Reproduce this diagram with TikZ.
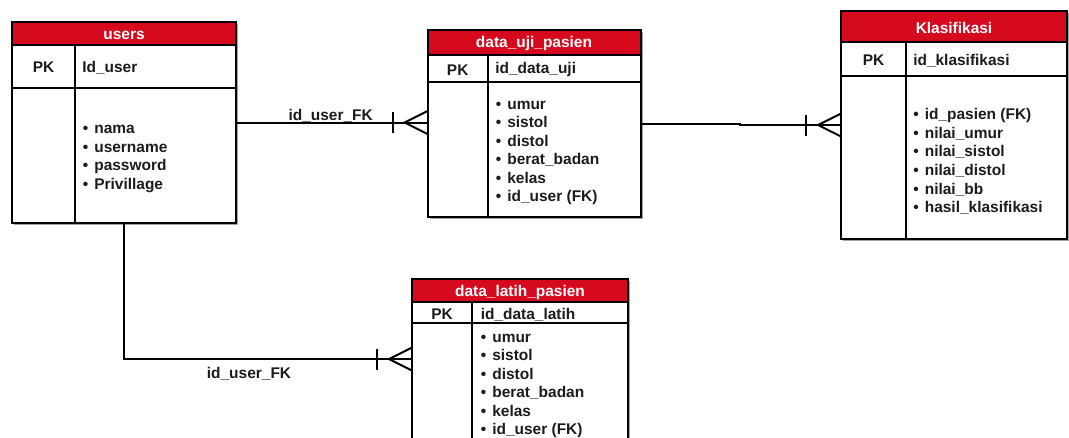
\documentclass[tikz,border=0pt]{standalone}
\usepackage{fontspec}
\setmainfont{Liberation Sans}
\usetikzlibrary{calc}
\definecolor{hdrred}{RGB}{214,10,30}
\definecolor{ink}{RGB}{28,28,28}

\tikzset{
  tbl/.style={fill=white, anchor=north west, inner sep=0pt, outer sep=0pt},
  rule/.style={draw=black, line width=1.5pt},
  hdr/.style={text=white, inner sep=0pt, yshift=-1.1pt, font=\fontsize{11.6}{13.9}\selectfont\bfseries},
  txt/.style={text=ink, inner sep=0pt, yshift=-1.1pt, font=\fontsize{11.6}{13.9}\selectfont\bfseries},
  list/.style={txt, align=left, anchor=west, yshift=-1.2pt},
  link/.style={draw=black, line width=1.5pt},
  shade/.style={fill=black!35}
}

% bullet followed by the gap before the item text
\newcommand\itm{•\hspace{4.6pt}}

% entity box: #1 name, #2 left, #3 top, #4 right, #5 bottom,
% #6 header bottom, #7 key row bottom, #8 column divider
\newcommand\ertable[8]{%
  \fill[shade] (#2+2,#3+2) rectangle (#4+2,#5+2);
  \node[tbl, minimum width={(#4-#2)*0.75pt}, minimum height={(#5-#3)*0.75pt}] (#1) at (#2,#3) {};
  \fill[hdrred] (#2,#3) rectangle (#4,#6);
  \draw[rule] (#2,#6) -- (#4,#6);
  \draw[rule] (#2,#7) -- (#4,#7);
  \draw[rule] (#8,#6) -- (#8,#5);
  \draw[rule] (#1.north west) rectangle (#1.south east);
}

% one-and-only-one bar plus crow's foot ending at a point
\newcommand\crow[1]{%
  \draw[link] ($#1+(-35,-10.5)$) -- ($#1+(-35,10.5)$);
  \draw[link] ($#1+(0,-11.5)$) -- ($#1+(-23,0)$) -- ($#1+(0,11.5)$);
}

\begin{document}
\begin{tikzpicture}[x=0.75pt, y=-0.75pt]
\useasboundingbox (0,0) rectangle (1069,437);

% ---- users
\ertable{users}{12}{22}{236}{223}{44.5}{88}{75}
\node[hdr] (usersT) at (124,33.5) {users};
\node[txt] (usersPK) at (43.5,66) {PK};
\node[txt, anchor=west] (usersK) at (82,66) {Id\_user};
\node[list] (usersA) at (82.5,156) {\itm nama\\\itm username\\\itm password\\\itm Privillage};

% ---- data_uji_pasien
\ertable{uji}{427.5}{30}{641}{217}{55}{82}{488}
\node[hdr] (ujiT) at (534,42.5) {data\_uji\_pasien};
\node[txt] (ujiPK) at (457.7,68.5) {PK};
\node[txt, anchor=west] (ujiK) at (495,68.5) {id\_data\_uji};
\node[list] (ujiA) at (495.5,150) {\itm umur\\\itm sistol\\\itm distol\\\itm berat\_badan\\\itm kelas\\\itm id\_user (FK)};

% ---- Klasifikasi
\ertable{klas}{841}{11}{1067}{239}{42}{76}{906}
\node[hdr] (klasT) at (954,26.5) {Klasifikasi};
\node[txt] (klasPK) at (873.5,59) {PK};
\node[txt, anchor=west] (klasK) at (913,59) {id\_klasifikasi};
\node[list] (klasA) at (913,158.5) {\itm id\_pasien (FK)\\\itm nilai\_umur\\\itm nilai\_sistol\\\itm nilai\_distol\\\itm nilai\_bb\\\itm hasil\_klasifikasi};

% ---- data_latih_pasien
\ertable{latih}{412}{279}{627.5}{439}{302}{323}{472}
\node[hdr] (latihT) at (520,291) {data\_latih\_pasien};
\node[txt] (latihPK) at (442,313) {PK};
\node[txt, anchor=west] (latihK) at (480.5,313) {id\_data\_latih};
\node[list] (latihA) at (480.5,383) {\itm umur\\\itm sistol\\\itm distol\\\itm berat\_badan\\\itm kelas\\\itm id\_user (FK)};

% ---- relationships
\draw[link] (users.east) -- (users.east -| uji.west);
\crow{(users.east -| uji.west)}
\node[txt] (lblA) at (330.7,114.5) {id\_user\_FK};

\draw[link] (uji.east) -- ++(99,0) |- (klas.west);
\crow{(klas.west)}

\draw[link] (users.south) |- (latih.west);
\crow{(latih.west)}
\node[txt] (lblB) at (249,372.7) {id\_user\_FK};
\end{tikzpicture}
\end{document}
